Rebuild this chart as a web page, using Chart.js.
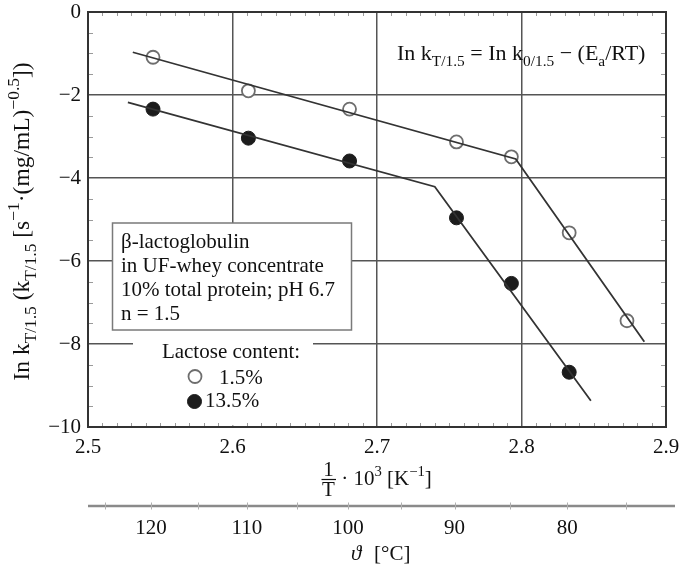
<!DOCTYPE html>
<html>
<head>
<meta charset="utf-8">
<script src="https://cdn.jsdelivr.net/npm/chart.js@4.4.1/dist/chart.umd.min.js"></script>
<style>
  html, body { margin: 0; padding: 0; background: #fff; }
  #wrap { width: 679px; height: 571px; }
</style>
</head>
<body>
<div id="wrap"><canvas id="c" width="679" height="571"></canvas></div>
<script>
// 1/T · 10^3 [K^-1] of the measured temperatures (120, 110, 100, 90, 85, 80, 75 °C)
const invT = [2.545, 2.611, 2.681, 2.755, 2.793, 2.833, 2.873];
// ln k for 1.5 % lactose (open symbols)
const lnkLow = [-1.09, -1.90, -2.34, -3.13, -3.49, -5.32, -7.44];
// ln k for 13.5 % lactose (filled symbols), no value at 75 °C
const lnkHigh = [-2.34, -3.04, -3.59, -4.96, -6.54, -8.68];
// Arrhenius fit lines: start, break point, end
const fitLowX = [2.531, 2.796, 2.885];
const fitLowY = [-0.97, -3.54, -7.945];
const fitHighX = [2.5276, 2.740, 2.848];
const fitHighY = [-2.176, -4.21, -9.366];
// axis ticks
const xTicks = [2.5, 2.6, 2.7, 2.8, 2.9];
const yTicks = [0, -2, -4, -6, -8, -10];
const tempLabels = [120, 110, 100, 90, 80];
const tempMinor = [125, 115, 105, 95, 85, 75];
const legendLabels = ['1.5%', '13.5%'];
const boxLines = ['β-lactoglobulin', 'in UF-whey concentrate', '10% total protein; pH 6.7', 'n = 1.5'];

const SERIF = '"Liberation Serif", "Times New Roman", serif';
const FS = 21;

const pts = (xs, ys) => ys.map((y, i) => ({ x: xs[i], y }));

function richWidth(ctx, parts, size, k) {
  let w = 0;
  for (const p of parts) {
    ctx.font = (p.s ? size * k : size) + 'px ' + SERIF;
    w += ctx.measureText(p.t).width;
  }
  return w;
}
function drawRich(ctx, parts, x, y, size, k) {
  let cx = x;
  ctx.textAlign = 'left';
  ctx.textBaseline = 'alphabetic';
  for (const p of parts) {
    const fs = p.s ? size * k : size;
    ctx.font = fs + 'px ' + SERIF;
    let dy = 0;
    if (p.s === 'sub') dy = size * 0.3;
    if (p.s === 'sup') dy = -size * 0.42;
    ctx.fillText(p.t, cx, y + dy);
    cx += ctx.measureText(p.t).width;
  }
}

const OPEN = { radius: 6.5, bg: '#ffffff', border: '#6e6e6e', bw: 1.8 };
const FILLED = { radius: 7, bg: '#1c1c1c', border: '#1c1c1c', bw: 1 };

const decor = {
  id: 'decor',
  beforeDatasetsDraw(chart) {
    const { ctx } = chart;
    const ys = chart.scales.y;
    ctx.save();
    // white area behind the legend, interrupting the grid
    ctx.fillStyle = '#fff';
    ctx.fillRect(133, ys.getPixelForValue(-6.5), 180, ys.getPixelForValue(-10) - ys.getPixelForValue(-6.5) - 1.5);
    // info box
    ctx.fillRect(112.5, 223, 239, 107);
    ctx.strokeStyle = '#7a7a7a';
    ctx.lineWidth = 1.5;
    ctx.strokeRect(112.5, 223, 239, 107);
    ctx.fillStyle = '#111';
    ctx.font = FS + 'px ' + SERIF;
    ctx.textAlign = 'left';
    ctx.textBaseline = 'alphabetic';
    const base = [248, 272, 296, 320];
    boxLines.forEach((t, i) => ctx.fillText(t, 121, base[i]));
    ctx.restore();
  },
  afterDraw(chart) {
    const { ctx, chartArea: a } = chart;
    const xs = chart.scales.x, ys = chart.scales.y;
    ctx.save();
    // minor ticks along all four sides
    ctx.strokeStyle = '#9a9a9a';
    ctx.lineWidth = 1;
    ctx.beginPath();
    for (let k = 1; k < 40; k++) {
      if (k % 10 === 0) continue;
      const px = Math.round(xs.getPixelForValue(2.5 + k * 0.01)) + 0.5;
      ctx.moveTo(px, a.top); ctx.lineTo(px, a.top + 4);
      ctx.moveTo(px, a.bottom); ctx.lineTo(px, a.bottom - 4);
    }
    for (let k = 1; k < 20; k++) {
      if (k % 4 === 0) continue;
      const py = Math.round(ys.getPixelForValue(-k * 0.5)) + 0.5;
      ctx.moveTo(a.left, py); ctx.lineTo(a.left + 5, py);
      ctx.moveTo(a.right, py); ctx.lineTo(a.right - 5, py);
    }
    ctx.stroke();
    // frame
    ctx.strokeStyle = '#333';
    ctx.lineWidth = 2;
    ctx.strokeRect(a.left, a.top, a.right - a.left, a.bottom - a.top);

    ctx.fillStyle = '#111';
    // equation
    drawRich(ctx, [
      { t: 'In k' }, { t: 'T/1.5', s: 'sub' }, { t: ' = In k' }, { t: '0/1.5', s: 'sub' },
      { t: ' − (E' }, { t: 'a', s: 'sub' }, { t: '/RT)' }
    ], 397, 59.5, 22, 0.7);

    // legend
    ctx.font = FS + 'px ' + SERIF;
    ctx.textAlign = 'center';
    ctx.fillText('Lactose content:', 231, 358);
    const marks = [OPEN, FILLED];
    const my = [376.5, 401.5], mx = [195, 194.5], tx = [219, 205], ty = [383.5, 407];
    marks.forEach((m, i) => {
      ctx.beginPath();
      ctx.arc(mx[i], my[i], m.radius, 0, Math.PI * 2);
      ctx.fillStyle = m.bg; ctx.fill();
      ctx.lineWidth = m.bw; ctx.strokeStyle = m.border; ctx.stroke();
      ctx.fillStyle = '#111';
      ctx.textAlign = 'left';
      ctx.fillText(legendLabels[i], tx[i], ty[i]);
    });

    // y axis title (rotated)
    const yParts = [
      { t: 'In k' }, { t: 'T/1.5', s: 'sub' }, { t: ' (k' }, { t: 'T/1.5', s: 'sub' },
      { t: ' [s' }, { t: '−1', s: 'sup' }, { t: '·(mg/mL)' }, { t: '−0.5', s: 'sup' }, { t: '])' }
    ];
    ctx.save();
    ctx.translate(28.5, 221.5);
    ctx.rotate(-Math.PI / 2);
    const yw = richWidth(ctx, yParts, 23.5, 0.74);
    drawRich(ctx, yParts, -yw / 2, 0, 23.5, 0.74);
    ctx.restore();

    // x axis title: 1/T · 10^3 [K^-1]
    ctx.font = FS + 'px ' + SERIF;
    ctx.textAlign = 'center';
    ctx.fillText('1', 328.5, 476);
    ctx.fillText('T', 328.5, 495.5);
    ctx.strokeStyle = '#111';
    ctx.lineWidth = 1.2;
    ctx.beginPath(); ctx.moveTo(321.5, 479.5); ctx.lineTo(336, 479.5); ctx.stroke();
    drawRich(ctx, [{ t: ' · 10' }, { t: '3', s: 'sup' }, { t: ' [K' }, { t: '−1', s: 'sup' }, { t: ']' }], 336, 485, FS, 0.7);

    // temperature axis
    const ty0 = 506;
    ctx.strokeStyle = '#8a8a8a';
    ctx.lineWidth = 2.5;
    ctx.beginPath(); ctx.moveTo(a.left, ty0); ctx.lineTo(675, ty0); ctx.stroke();
    ctx.strokeStyle = '#b0b0b0';
    ctx.lineWidth = 1;
    ctx.beginPath();
    tempLabels.concat(tempMinor).forEach(T => {
      const px = Math.round(xs.getPixelForValue(1000 / (T + 273.15))) + 0.5;
      ctx.moveTo(px, ty0 - 3.5); ctx.lineTo(px, ty0 + 3.5);
    });
    ctx.stroke();
    ctx.fillStyle = '#111';
    ctx.font = FS + 'px ' + SERIF;
    ctx.textAlign = 'center';
    ctx.textBaseline = 'alphabetic';
    tempLabels.forEach(T => {
      const px = xs.getPixelForValue(1000 / (T + 273.15));
      ctx.fillText(String(T), px, 534);
    });
    ctx.font = 'italic ' + FS + 'px ' + SERIF;
    ctx.textAlign = 'left';
    ctx.fillText('ϑ', 351, 560);
    ctx.font = FS + 'px ' + SERIF;
    ctx.fillText('[°C]', 374, 560);
    ctx.restore();
  }
};

const lineDs = (label, xs, ys) => ({
  label, data: pts(xs, ys), showLine: true, borderColor: '#333', borderWidth: 1.8,
  pointRadius: 0, pointHoverRadius: 0, fill: false, tension: 0
});
const pointDs = (label, xs, ys, m) => ({
  label, data: pts(xs, ys), showLine: false, pointRadius: m.radius,
  pointBackgroundColor: m.bg, pointBorderColor: m.border, pointBorderWidth: m.bw,
  backgroundColor: m.bg, borderColor: m.border
});

new Chart(document.getElementById('c'), {
  type: 'scatter',
  data: {
    datasets: [
      lineDs('fit 1.5%', fitLowX, fitLowY),
      lineDs('fit 13.5%', fitHighX, fitHighY),
      pointDs('1.5%', invT, lnkLow, OPEN),
      pointDs('13.5%', invT.slice(0, lnkHigh.length), lnkHigh, FILLED)
    ]
  },
  options: {
    responsive: false,
    animation: false,
    devicePixelRatio: 1,
    layout: { padding: { left: 0, top: 12, right: 13, bottom: 0 } },
    plugins: { legend: { display: false }, tooltip: { enabled: false } },
    scales: {
      x: {
        type: 'linear', min: 2.5, max: 2.9,
        afterBuildTicks: s => { s.ticks = xTicks.map(v => ({ value: v })); },
        afterFit: s => { s.height = 144; s.paddingLeft = 0; s.paddingRight = 0; },
        grid: { color: '#555', lineWidth: 1.5, drawTicks: false },
        border: { display: false },
        ticks: {
          color: '#111', padding: 8, maxRotation: 0,
          font: { family: SERIF, size: FS },
          callback: v => v.toFixed(1)
        }
      },
      y: {
        type: 'linear', min: -10, max: 0,
        afterBuildTicks: s => { s.ticks = yTicks.map(v => ({ value: v })); },
        afterFit: s => { s.width = 88; s.paddingTop = 0; s.paddingBottom = 0; },
        grid: { color: '#555', lineWidth: 1.5, drawTicks: false },
        border: { display: false },
        ticks: {
          color: '#111', padding: 7,
          font: { family: SERIF, size: FS },
          callback: v => (v < 0 ? '−' + Math.abs(v) : String(v))
        }
      }
    }
  },
  plugins: [decor]
});
</script>
</body>
</html>
